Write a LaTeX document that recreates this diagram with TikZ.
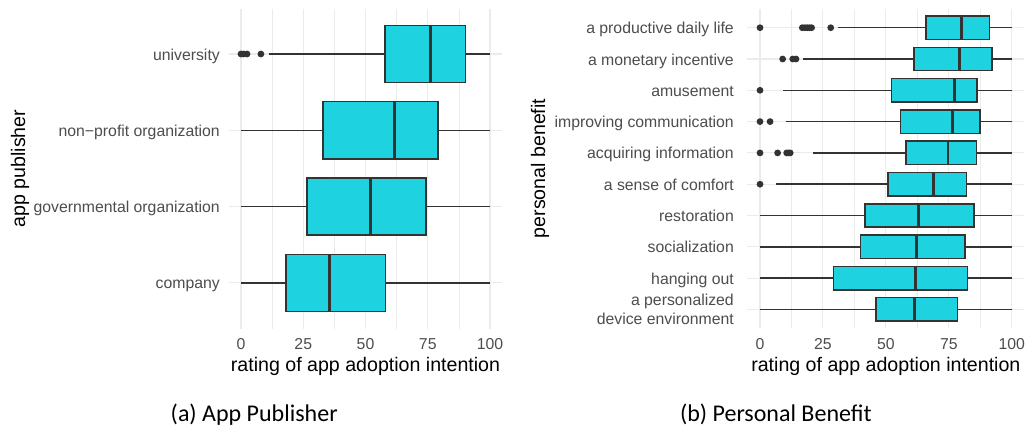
\documentclass[tikz,border=0pt]{standalone}
\usepackage{fontspec}
\setmainfont{Liberation Sans}
\newfontfamily\capfont{Carlito}
\definecolor{boxfill}{RGB}{30,210,224}
\definecolor{ink}{HTML}{333333}
\definecolor{gridc}{HTML}{EBEBEB}
\definecolor{ticktext}{HTML}{4D4D4D}
\tikzset{
  gmaj/.style={draw=gridc, line width=1.1pt},
  gmin/.style={draw=gridc, line width=0.55pt},
  whisk/.style={draw=ink, line width=1.5pt},
  boxst/.style={draw=ink, fill=boxfill, line width=1.5pt},
  medst/.style={draw=ink, line width=2.8pt},
  outl/.style={fill=ink},
  ticklab/.style={font=\fontsize{15.8}{18.3}\selectfont, text=ticktext, inner sep=0pt},
  axtitle/.style={font=\fontsize{19.6}{22}\selectfont, text=black, inner sep=0pt},
  captxt/.style={font=\capfont\fontsize{24}{28}\selectfont, inner sep=0pt},
}
% #1 y, #2 lower whisker, #3 q1, #4 median, #5 q3, #6 upper whisker
\newcommand\bxrow[6]{%
  \draw[whisk] (#2,#1) -- (#3,#1) (#5,#1) -- (#6,#1);
  \draw[boxst] (#3,{#1-\hh}) rectangle (#5,{#1+\hh});
  \draw[medst] (#4,{#1-\hh}) -- (#4,{#1+\hh});
}
\newcommand\outpt[2]{\fill[outl] (#2,#1) circle (3.4pt);}
\begin{document}
\begin{tikzpicture}[x=1pt,y=-1pt]
\fill[white] (0,0) rectangle (1032,431);
\useasboundingbox (0,0) rectangle (1032,431);

% ---------------- left panel ----------------
\begin{scope}[shift={(241,0)}, x=2.49pt]
  \def\hh{28.6}
  \foreach \v in {12.5,37.5,62.5,87.5} \draw[gmin] (\v,8.5) -- (\v,328.5);
  \foreach \v in {0,25,50,75,100} \draw[gmaj] (\v,8.5) -- (\v,328.5);
  \foreach \r in {54,130.3,206.6,282.9} \draw[gmaj] (-5,\r) -- (105,\r);
  \bxrow{54}{11.4}{57.8}{76}{90.2}{100}
  \outpt{54}{0}\outpt{54}{1}\outpt{54}{2.4}\outpt{54}{8}
  \bxrow{130.3}{0}{33}{61.6}{79.1}{100}
  \bxrow{206.6}{0}{26.5}{52.1}{74.3}{100}
  \bxrow{282.9}{0}{18.1}{35.5}{58}{100}
  \node[ticklab, anchor=base] (la0) at (0,349.5) {0};
  \node[ticklab, anchor=base] (la25) at (25,349.5) {25};
  \node[ticklab, anchor=base] (la50) at (50,349.5) {50};
  \node[ticklab, anchor=base] (la75) at (75,349.5) {75};
  \node[ticklab, anchor=base] (la100) at (100,349.5) {100};
  \node[axtitle, anchor=base] (lxt) at (50,371) {rating of app adoption intention};
\end{scope}
\node[ticklab, anchor=base east] (lyu) at (220,60) {university};
\node[ticklab, anchor=base east] (lyn) at (220,136.3) {non\char"2212 profit organization};
\node[ticklab, anchor=base east] (lyg) at (220,212.6) {governmental organization};
\node[ticklab, anchor=base east] (lyc) at (220,288.9) {company};
\node[axtitle, rotate=90, anchor=base] (lyt) at (25,168.5) {app publisher};
\node[captxt, anchor=base] (capa) at (254.2,421.5) {(a) App Publisher};

% ---------------- right panel ----------------
\begin{scope}[shift={(760,0)}, x=2.517pt]
  \def\hh{11.7}
  \foreach \v in {12.5,37.5,62.5,87.5} \draw[gmin] (\v,8.9) -- (\v,328.2);
  \foreach \v in {0,25,50,75,100} \draw[gmaj] (\v,8.9) -- (\v,328.2);
  \foreach \r in {27.7,59,90.3,121.6,152.9,184.2,215.5,246.8,278.1,309.4} \draw[gmaj] (-5,\r) -- (105,\r);
  \bxrow{27.7}{31.1}{66}{79.9}{91.1}{100}
  \outpt{27.7}{0}\outpt{27.7}{16.8}\outpt{27.7}{17.8}\outpt{27.7}{18.8}\outpt{27.7}{19.7}\outpt{27.7}{20.5}\outpt{27.7}{28.1}
  \bxrow{59}{17.2}{61.2}{79.2}{92.2}{100}
  \outpt{59}{9}\outpt{59}{13}\outpt{59}{14.3}
  \bxrow{90.3}{9.3}{52.3}{77.2}{86.3}{100}
  \outpt{90.3}{0}
  \bxrow{121.6}{10.2}{55.9}{76.4}{87.4}{100}
  \outpt{121.6}{0}\outpt{121.6}{4}
  \bxrow{152.9}{21.2}{58}{74.7}{86.1}{100}
  \outpt{152.9}{0}\outpt{152.9}{7}\outpt{152.9}{10.6}\outpt{152.9}{11.3}\outpt{152.9}{12}
  \bxrow{184.2}{6.4}{50.9}{68.9}{82.1}{100}
  \outpt{184.2}{0}
  \bxrow{215.5}{0}{41.8}{62.9}{85}{100}
  \bxrow{246.8}{0}{40}{62.2}{81.4}{100}
  \bxrow{278.1}{0}{29.1}{61.9}{82.4}{100}
  \bxrow{309.4}{0}{46.1}{61.3}{78.4}{100}
  \node[ticklab, anchor=base] (rb0) at (0,349.5) {0};
  \node[ticklab, anchor=base] (rb25) at (25,349.5) {25};
  \node[ticklab, anchor=base] (rb50) at (50,349.5) {50};
  \node[ticklab, anchor=base] (rb75) at (75,349.5) {75};
  \node[ticklab, anchor=base] (rb100) at (100,349.5) {100};
  \node[axtitle, anchor=base] (rxt) at (50,371) {rating of app adoption intention};
\end{scope}
\node[ticklab, anchor=base east] (ry1) at (734,33.7) {a productive daily life};
\node[ticklab, anchor=base east] (ry2) at (734,65) {a monetary incentive};
\node[ticklab, anchor=base east] (ry3) at (734,96.3) {amusement};
\node[ticklab, anchor=base east] (ry4) at (734,127.6) {improving communication};
\node[ticklab, anchor=base east] (ry5) at (734,158.9) {acquiring information};
\node[ticklab, anchor=base east] (ry6) at (734,190.2) {a sense of comfort};
\node[ticklab, anchor=base east] (ry7) at (734,221.5) {restoration};
\node[ticklab, anchor=base east] (ry8) at (734,252.8) {socialization};
\node[ticklab, anchor=base east] (ry9) at (734,284.1) {hanging out};
\node[ticklab, anchor=base east, align=right] (ry10) at (734,324.2) {a personalized\\device environment};
\node[axtitle, rotate=90, anchor=base] (ryt) at (545,168.5) {personal benefit};
\node[captxt, anchor=base] (capb) at (775.8,421.5) {(b) Personal Benefit};
\end{tikzpicture}
\end{document}
